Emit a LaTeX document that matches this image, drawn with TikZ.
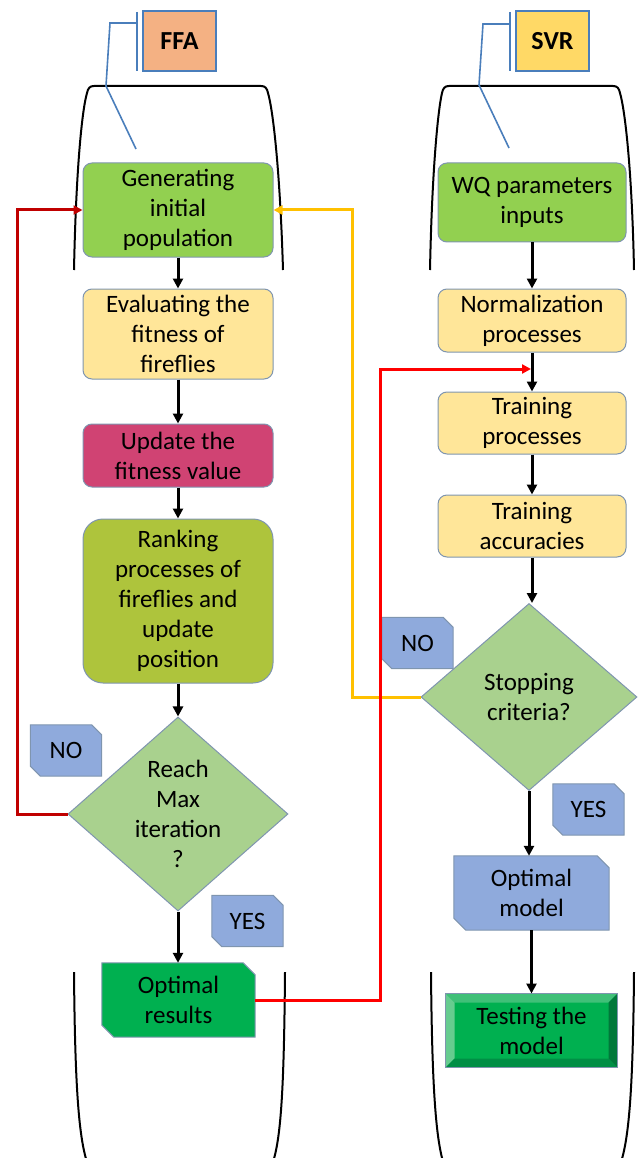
\documentclass[tikz,border=0pt]{standalone}
\usepackage{fontspec}
\setmainfont{Carlito}
\usetikzlibrary{shapes.geometric,arrows.meta,backgrounds,calc}
\definecolor{boxc}{HTML}{7F95AF}
\definecolor{callc}{HTML}{4A7EBB}
\definecolor{cgreen}{HTML}{92D050}
\definecolor{cyellow}{HTML}{FFE699}
\definecolor{cpink}{HTML}{D04373}
\definecolor{colive}{HTML}{AEC43C}
\definecolor{cdia}{HTML}{A9D18E}
\definecolor{cblue}{HTML}{8FAADC}
\definecolor{cdark}{HTML}{00B050}
\definecolor{cffa}{HTML}{F4B183}
\definecolor{csvr}{HTML}{FFD966}
\definecolor{credA}{HTML}{C00000}
\definecolor{credB}{HTML}{FF0000}
\definecolor{corange}{HTML}{FFC000}
\definecolor{bvtop}{HTML}{40C078}
\definecolor{bvleft}{HTML}{66CC8F}
\definecolor{bvright}{HTML}{00783A}
\definecolor{bvbot}{HTML}{008F45}
\newcommand{\fs}{\fontsize{25}{30}\selectfont}
\newcommand{\snipbox}[3]{%
  \begin{pgfonlayer}{background}
  \draw[boxline, fill=#2] (#1.north west) -- ([xshift=-#3]#1.north east) -- ([yshift=-#3]#1.north east) -- (#1.south east) -- ([xshift=#3]#1.south west) -- ([yshift=#3]#1.south west) -- cycle;
  \end{pgfonlayer}}
\begin{document}
\begin{tikzpicture}[x=1pt,y=-1pt,
  boxline/.style={draw=boxc, line width=1pt},
  proc/.style={boxline, rounded corners=9pt, align=center, inner sep=0pt, font=\fs, minimum width=190pt},
  procR/.style={proc, minimum width=188pt},
  dia/.style={diamond, boxline, fill=cdia, align=center, inner sep=0pt, font=\fs, minimum width=220pt, minimum height=187pt},
  snip/.style={align=center, inner sep=0pt, font=\fs},
  tag/.style={snip, minimum width=71pt, minimum height=51pt},
  lbl/.style={rectangle, draw=callc, line width=1.5pt, minimum width=73pt, minimum height=60pt, font=\fontsize{26}{30}\selectfont\bfseries},
  arr/.style={line width=3pt, -{Triangle[length=10pt,width=10pt]}},
  loop/.style={line width=3pt, -{Triangle[length=9pt,width=9pt]}},
  brk/.style={line width=2pt, black},
  callout/.style={draw=callc, line width=1.6pt}
]
\useasboundingbox (0,0) rectangle (637,1158);

% brackets
\draw[brk] (74,270) .. controls (76,170) and (82,110) .. (87,93) .. controls (88,88) and (90,86) .. (94,86) -- (261,86) .. controls (265,86) and (267,88) .. (268,93) .. controls (273,110) and (280,170) .. (283,270);
\draw[brk] (430,270) .. controls (432,170) and (438,110) .. (442,93) .. controls (443,88) and (445,86) .. (449,86) -- (613,86) .. controls (617,86) and (619,88) .. (620,93) .. controls (625,110) and (632,170) .. (634,270);
\draw[brk] (74,972) .. controls (75,1090) and (79,1140) .. (88,1165);
\draw[brk] (285,972) .. controls (284,1090) and (281,1140) .. (272,1165);
\draw[brk] (431,972) .. controls (432,1090) and (436,1140) .. (444,1165);
\draw[brk] (634,972) .. controls (633,1090) and (629,1140) .. (620,1165);

% labels with callouts
\node[lbl, fill=cffa] (ffa) at (179.5,41) {FFA};
\node[lbl, fill=csvr] (svr) at (552.5,41) {SVR};
\draw[callout] (137,12) -- (137,71);
\draw[callout] (137,23) -- (110,23) -- (106,86) -- (136,149);
\draw[callout] (510,12) -- (510,71);
\draw[callout] (510,24) -- (483,24) -- (479,85) -- (509,148);

% left column
\node[proc, fill=cgreen, minimum height=94pt] (gen) at (178,210) {Generating\\initial\\population};
\node[proc, fill=cyellow, minimum height=90pt] (eval) at (178,334) {Evaluating the\\fitness of\\fireflies};
\node[proc, fill=cpink, minimum height=63pt] (upd) at (178,455.5) {Update the\\fitness value};
\node[proc, fill=colive, minimum height=164pt, rounded corners=20pt] (rank) at (178,601) {Ranking\\processes of\\fireflies and\\update\\position};
\node[dia] (dia1) at (178,814) {Reach\\Max\\iteration\\?};
\node[snip, minimum width=153pt, minimum height=74pt] (opt) at (178.5,1000) {Optimal\\results};
\snipbox{opt}{cdark}{12pt}
\node[tag] (no1) at (66,750.5) {NO};
\snipbox{no1}{cblue}{10pt}
\node[tag] (yes1) at (247.5,921) {YES};
\snipbox{yes1}{cblue}{10pt}

% right column
\node[procR, fill=cgreen, minimum height=79pt] (wq) at (532,202.5) {WQ parameters\\inputs};
\node[procR, fill=cyellow, minimum height=63pt] (norm) at (532,320.5) {Normalization\\processes};
\node[procR, fill=cyellow, minimum height=62pt] (train) at (532,423) {Training\\processes};
\node[procR, fill=cyellow, minimum height=62pt] (acc) at (532,526) {Training\\accuracies};
\node[dia, minimum width=216pt] (dia2) at (529,697) {Stopping\\criteria?};
\node[snip, minimum width=155pt, minimum height=74pt] (optm) at (531.5,893) {Optimal\\model};
\snipbox{optm}{cblue}{12pt}
\node[tag] (no2) at (417.5,643) {NO};
\snipbox{no2}{cblue}{10pt}
\node[tag] (yes2) at (588.5,809.5) {YES};
\snipbox{yes2}{cblue}{10pt}
\node[boxline, fill=cdark, minimum width=171pt, minimum height=73pt, align=center, inner sep=0pt, font=\fs] (test) at (531.5,1030.5) {Testing the\\model};
\coordinate (tnw) at ([shift={(9pt,-9pt)}]test.north west);
\coordinate (tne) at ([shift={(-9pt,-9pt)}]test.north east);
\coordinate (tse) at ([shift={(-9pt,9pt)}]test.south east);
\coordinate (tsw) at ([shift={(9pt,9pt)}]test.south west);
\fill[bvtop] (test.north west) -- (test.north east) -- (tne) -- (tnw) -- cycle;
\fill[bvleft] (test.north west) -- (tnw) -- (tsw) -- (test.south west) -- cycle;
\fill[bvright] (test.north east) -- (test.south east) -- (tse) -- (tne) -- cycle;
\fill[bvbot] (test.south west) -- (tsw) -- (tse) -- (test.south east) -- cycle;
\draw[boxline] (test.north west) rectangle (test.south east);

% arrows
\draw[arr] (gen) -- (eval);
\draw[arr] (eval) -- (upd);
\draw[arr] (upd) -- (rank);
\draw[arr] (rank) -- (dia1);
\draw[arr] (dia1.south) -- (dia1.south |- opt.north);
\draw[arr] (wq) -- (norm);
\draw[arr] (norm) -- (train);
\draw[arr] (train) -- (acc);
\draw[arr] (acc.south) -- (acc.south |- dia2.north);
\draw[arr] (dia2.south) -- (dia2.south |- optm.north);
\draw[arr] (optm.south) -- (optm.south |- test.north);

% loops
\coordinate (nt) at (531,369);
\draw[loop, credA] (dia1.west) -- (17,814) |- (gen.west);
\draw[loop, corange] (dia2.west) -- (352,697) |- (gen.east);
\draw[loop, credB] (opt.east) -- (380,1000) |- (nt);
\end{tikzpicture}
\end{document}
